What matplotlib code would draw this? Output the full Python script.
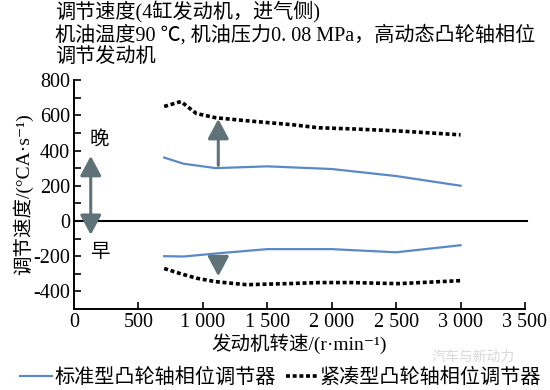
import numpy as np
import matplotlib.pyplot as plt

plt.rcParams['font.family'] = ['Liberation Serif', 'Noto Sans CJK SC', 'DejaVu Serif']
plt.rcParams['axes.unicode_minus'] = False

# 标准型凸轮轴相位调节器 (实线)
rpm_std = [700, 850, 1100, 1500, 2000, 2500, 3000]
late_std = [360, 325, 300, 310, 295, 255, 200]
early_std = [-200, -202, -185, -160, -160, -178, -138]

# 紧凑型凸轮轴相位调节器 (虚线)
rpm_cmp = [700, 830, 950, 1100, 1340, 1700, 1900, 2150, 2520, 3000]
late_cmp = [650, 678, 610, 586, 569, 546, 529, 523, 511, 489]
early_cmp = [-270, -300, -325, -345, -362, -355, -350, -350, -356, -339]

xticks = [0, 500, 1000, 1500, 2000, 2500, 3000, 3500]
xlabels = ['0', '500', '1 000', '1 500', '2 000', '2 500', '3 000', '3 500']
yticks = [-400, -200, 0, 200, 400, 600, 800]

blue = '#5b89c6'
arrow_c = '#5f7278'

fig = plt.figure(figsize=(5.5, 3.9), dpi=100)
ax = fig.add_axes([0.1345, 0.2077, 0.82, 0.587])

ax.plot(rpm_std, late_std, color=blue, lw=1.6, label='标准型凸轮轴相位调节器')
ax.plot(rpm_std, early_std, color=blue, lw=1.6)
ax.plot(rpm_cmp, late_cmp, color='black', lw=2.6, ls=(0, (1.1, 0.75)),
        dash_capstyle='butt', label='紧凑型凸轮轴相位调节器')
ax.plot(rpm_cmp, early_cmp, color='black', lw=2.6, ls=(0, (1.1, 0.75)),
        dash_capstyle='butt')

ax.axhline(0, color='black', lw=1.5, xmin=0, xmax=1.005, clip_on=False)

# 箭头
head = '-|>,head_length=0.6,head_width=0.32'
akw = dict(arrowstyle=head, color=arrow_c, lw=2.2, mutation_scale=20)
ax.annotate('', xy=(1120, 595), xytext=(1120, 300), arrowprops=akw)
ax.annotate('', xy=(1120, -330), xytext=(1120, -212), arrowprops=akw)
ax.annotate('', xy=(130, 385), xytext=(130, -95),
            arrowprops=dict(arrowstyle='<|-|>,head_length=0.6,head_width=0.32',
                            color=arrow_c, lw=2.2, mutation_scale=20))
ax.text(200, 455, '晚', fontsize=14, ha='center', va='center')
ax.text(200, -180, '早', fontsize=14, ha='center', va='center')

ax.set_xlim(0, 3500)
ax.set_ylim(-500, 800)
ax.set_xticks(xticks)
ax.set_xticklabels(xlabels)
ax.set_yticks(yticks)
ax.set_yticks(np.arange(-500, 801, 100), minor=True)
ax.tick_params(axis='both', direction='in', labelsize=14.5, length=5, width=1.2, pad=3)
ax.tick_params(axis='y', which='minor', direction='in', length=5, width=1.2)
for s in ['top', 'right']:
    ax.spines[s].set_visible(False)
for s in ['left', 'bottom']:
    ax.spines[s].set_linewidth(1.4)

ax.set_xlabel('发动机转速/(r·min⁻¹)', fontsize=14, labelpad=1)
ax.set_ylabel('调节速度/(°CA·s⁻¹)', fontsize=14, labelpad=0)

fig.text(0.1, 0.968, '调节速度(4缸发动机，进气侧)', fontsize=14.5, va='center')
fig.text(0.1, 0.91, '机油温度90 ℃, 机油压力0. 08 MPa，高动态凸轮轴相位', fontsize=14.5, va='center')
fig.text(0.1, 0.853, '调节发动机', fontsize=14.5, va='center')

fig.legend(loc='center', bbox_to_anchor=(0.51, 0.03), ncol=2, frameon=False,
           fontsize=14.5, handlelength=1.6, handletextpad=0.1, columnspacing=0.5,
           borderaxespad=0)

fig.text(0.86, 0.085, '汽车与新动力', fontsize=10, color='#d8d8d8', ha='center', va='center')

fig.savefig('out.png', dpi=100)
